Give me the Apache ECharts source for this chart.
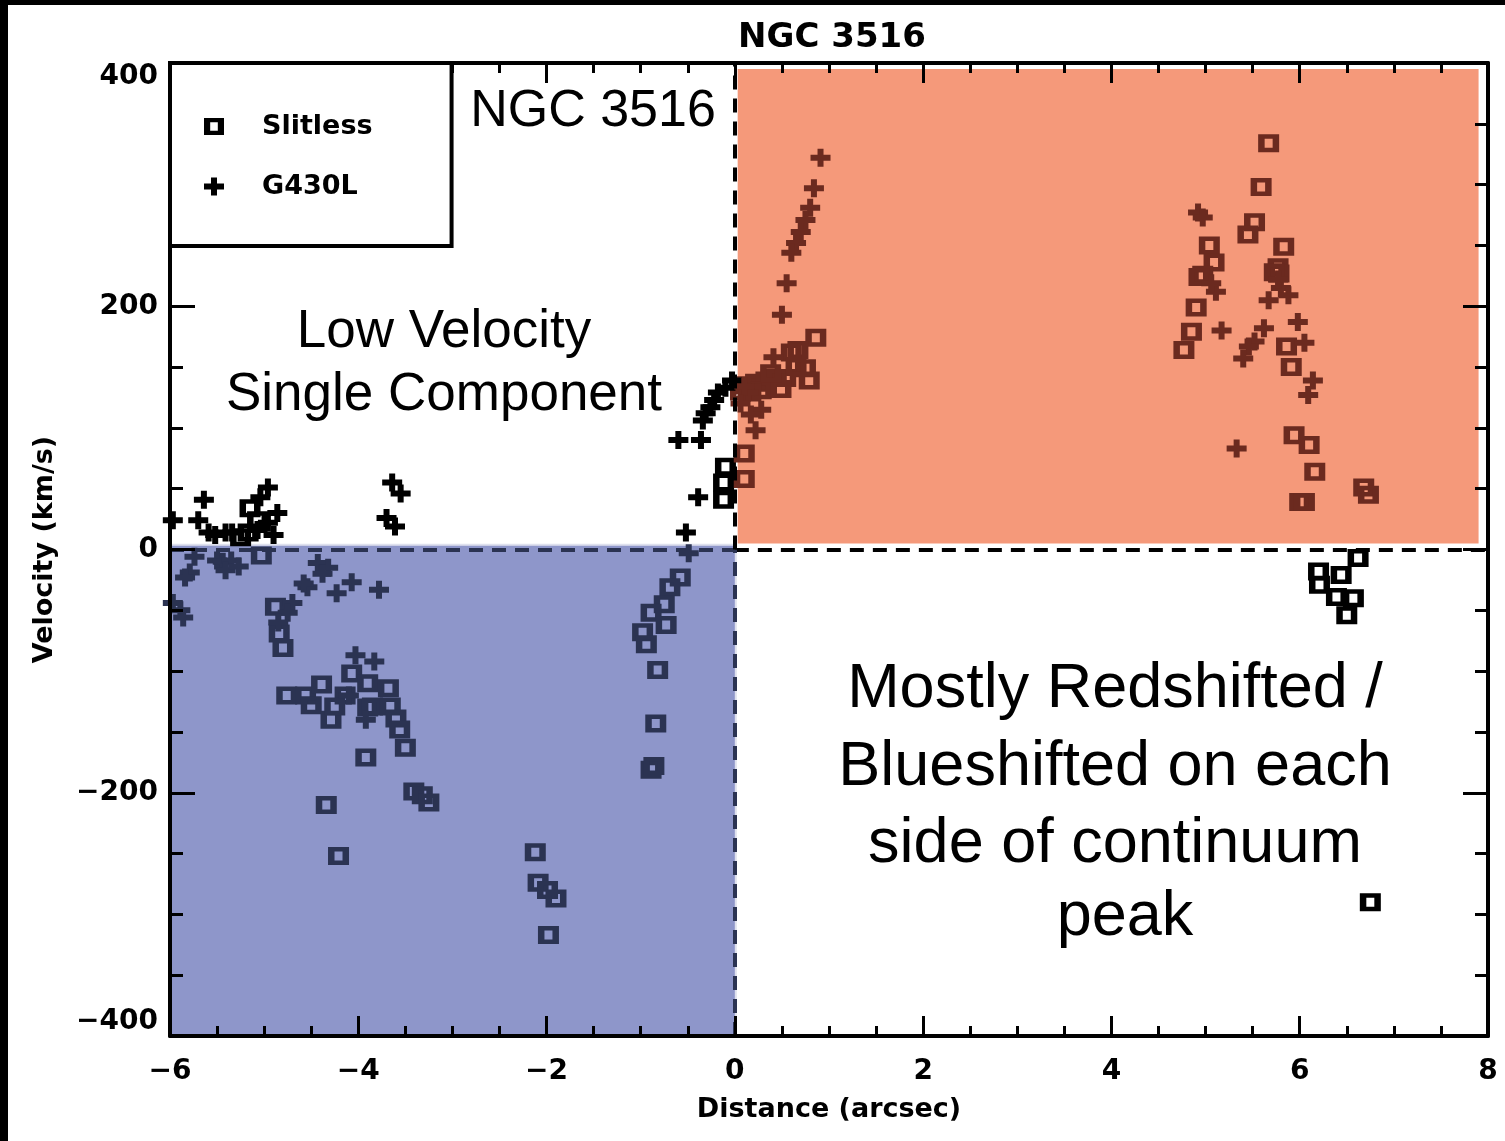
<!DOCTYPE html>
<html>
<head>
<meta charset="utf-8">
<title>NGC 3516</title>
<script src="https://cdn.jsdelivr.net/npm/echarts@6/dist/echarts.min.js"></script>
<style>
  html, body { margin: 0; padding: 0; background: #fff; }
  #wrap { position: relative; width: 1505px; height: 1141px; overflow: hidden; }
  #chart { position: absolute; left: 0; top: 0; width: 1505px; height: 1141px; }
  .edge { position: absolute; background: #000; z-index: 5; }
</style>
</head>
<body>
<div id="wrap">
  <div id="chart"></div>
  <div class="edge" style="left:0;top:0;width:8px;height:1141px;"></div>
  <div class="edge" style="left:0;top:0;width:1505px;height:5px;"></div>
</div>
<script>
// Velocity (km/s) versus distance along the slit (arcsec), two data sets
const slitlessPoints = [
  // x < 0, v > 0
  [-5.15, 34], [-5.07, 24], [-5.17, 14], [-5.25, 10],
  [-0.10, 68], [-0.12, 55], [-0.12, 41],
  // x > 0, v > 0, near the nucleus
  [0.86, 174], [0.67, 164], [0.60, 162], [0.75, 149], [0.79, 139],
  [0.12, 135], [0.22, 137], [0.33, 139], [0.44, 141], [0.54, 141],
  [0.28, 131], [0.49, 132], [0.17, 129], [0.65, 150], [0.06, 130],
  [0.38, 145], [0.10, 79], [0.10, 58],
  // x > 0, v > 0, outer knot
  [5.67, 334], [5.59, 298], [5.52, 269], [5.45, 259], [5.83, 249],
  [5.04, 250], [5.09, 236], [4.97, 226], [4.93, 224], [5.77, 232],
  [5.78, 227], [5.73, 228], [4.90, 199], [4.85, 179], [4.77, 164],
  [5.86, 167], [5.91, 150], [5.94, 94], [6.10, 86], [6.16, 64],
  [6.00, 39], [6.05, 39], [6.68, 51], [6.73, 45],
  // x > 0, v < 0
  [6.62, -7], [6.20, -18], [6.44, -21], [6.21, -29], [6.39, -39],
  [6.57, -40], [6.50, -54], [6.75, -290],
  // x < 0, v < 0
  [-5.03, -5], [-4.88, -47], [-4.84, -69], [-4.80, -81],
  [-4.76, -120], [-4.56, -120], [-4.39, -111], [-4.50, -128], [-4.29, -140],
  [-4.07, -102], [-4.14, -120], [-4.25, -129], [-3.90, -110], [-3.90, -130],
  [-3.85, -129], [-3.68, -114], [-3.66, -129], [-3.60, -139], [-3.56, -148],
  [-3.50, -163], [-3.92, -171], [-4.34, -210], [-4.21, -252],
  [-3.41, -199], [-3.32, -202], [-3.25, -208],
  [-2.12, -249], [-2.09, -274], [-1.99, -280], [-1.90, -287], [-1.98, -317],
  [-0.58, -23], [-0.69, -31], [-0.75, -45], [-0.89, -52], [-0.73, -62],
  [-0.98, -68], [-0.94, -78], [-0.82, -99], [-0.84, -143], [-0.89, -181],
  [-0.86, -178]
];

const g430lPoints = [
  // x < 0, v > 0
  [-5.97, 24], [-5.64, 41], [-5.70, 24], [-5.59, 14], [-5.52, 12],
  [-5.41, 14], [-5.34, 14], [-4.96, 51], [-5.04, 43], [-4.86, 30],
  [-4.96, 22], [-5.07, 16], [-4.90, 12],
  [-3.64, 55], [-3.55, 46], [-3.70, 26], [-3.61, 19],
  [-0.60, 90], [-0.36, 90], [-0.39, 43], [-0.52, 14],
  [-0.03, 139], [-0.10, 133], [-0.18, 129], [-0.22, 123], [-0.26, 117],
  [-0.31, 112], [-0.34, 106],
  // x > 0, v > 0, near the nucleus
  [0.91, 322], [0.84, 297], [0.80, 281], [0.75, 271], [0.70, 261],
  [0.65, 252], [0.60, 244], [0.55, 219], [0.50, 193], [0.41, 158],
  [0.28, 115], [0.17, 111], [0.22, 98], [0.14, 129], [0.10, 134], [0.06, 120],
  // x > 0, v > 0, outer knot
  [4.92, 277], [4.97, 273], [5.11, 212], [5.06, 219], [5.17, 180],
  [5.67, 205], [5.80, 215], [5.88, 209], [5.77, 222], [5.98, 187],
  [5.62, 182], [5.52, 171], [5.46, 167], [5.40, 157], [6.05, 170],
  [6.14, 139], [6.09, 127], [5.33, 83],
  // x < 0, v < 0
  [-5.74, -6], [-5.79, -19], [-5.84, -23], [-5.50, -9], [-5.44, -10],
  [-5.35, -9], [-5.41, -17], [-5.27, -14], [-5.89, -50], [-5.86, -56],
  [-5.97, -44],
  [-4.43, -11], [-4.32, -15], [-4.38, -20], [-4.54, -31], [-4.58, -28],
  [-4.07, -27], [-4.23, -36], [-3.78, -33], [-4.70, -44], [-4.75, -52],
  [-4.85, -60], [-4.03, -87], [-3.83, -92], [-3.92, -140], [-4.10, -120],
  [-0.49, -3]
];

// axis ranges
const xRange = [-6, 8];
const yRange = [-400, 400];

// shaded quadrants
const redQuadrant = [[0.03, 5], [7.9, 395]];
const blueQuadrant = [[-6, -400], [0.01, 4]];

const ORANGE = '#F5997A';
const BLUE = '#8E96CA';
const NAVY = '#2B3352';
const BROWN = '#6B2A1F';

// marker colour follows the shaded quadrant it falls in
function markerColor(p) {
  const x = p.value[0], y = p.value[1];
  if (x < 0 && y < 0) return NAVY;
  if (x > 0 && y > 0) return BROWN;
  return '#000';
}

// hollow square (outer ring with a hole) and a heavy plus sign
const squareSymbol = 'path://M0,0H21V18H0Z M6.5,4.5V13.5H14.5V4.5Z';
const plusSymbol = 'path://M7,0H13V6H20V12H13V18H7V12H0V6H7Z';

const axisFont = { fontFamily: 'DejaVu Sans', fontWeight: 'bold', fontSize: 28, color: '#000' };
const minusFmt = v => String(v).replace('-', '\u2212');

function xAxisDef(pos, showLabel) {
  return {
    type: 'value', position: pos, min: xRange[0], max: xRange[1], interval: 2,
    z: 5,
    name: showLabel ? 'Distance (arcsec)' : '',
    nameLocation: 'middle', nameGap: 60,
    nameTextStyle: { fontFamily: 'DejaVu Sans', fontWeight: 'bold', fontSize: 27, color: '#000' },
    axisLine: { show: true, onZero: false, lineStyle: { color: '#000', width: 4 } },
    axisTick: { show: true, inside: true, length: 20, lineStyle: { color: '#000', width: 3 } },
    minorTick: { show: true, splitNumber: 4, length: 10, lineStyle: { color: '#000', width: 3 } },
    splitLine: { show: false },
    axisLabel: Object.assign({ show: showLabel, margin: 22, formatter: minusFmt }, axisFont)
  };
}
function yAxisDef(pos, showLabel) {
  return {
    type: 'value', position: pos, min: yRange[0], max: yRange[1], interval: 200,
    z: 5,
    name: showLabel ? 'Velocity (km/s)' : '',
    nameLocation: 'middle', nameGap: 112, nameRotate: 90,
    nameTextStyle: { fontFamily: 'DejaVu Sans', fontWeight: 'bold', fontSize: 27, color: '#000' },
    axisLine: { show: true, onZero: false, lineStyle: { color: '#000', width: 4 } },
    axisTick: { show: true, inside: true, length: 25, lineStyle: { color: '#000', width: 3 } },
    minorTick: { show: true, splitNumber: 4, length: 13, lineStyle: { color: '#000', width: 3 } },
    splitLine: { show: false },
    axisLabel: Object.assign({
      show: showLabel, margin: 12, formatter: minusFmt,
      verticalAlignMaxLabel: 'top', verticalAlignMinLabel: 'bottom'
    }, axisFont)
  };
}

const chart = echarts.init(document.getElementById('chart'), null, { renderer: 'canvas' });

const annotationFont = { fontFamily: 'Liberation Sans', fill: '#000', align: 'center', verticalAlign: 'middle' };
function note(text, x, y, size) {
  return { type: 'text', z: 10, style: Object.assign({ text, x, y, fontSize: size }, annotationFont) };
}

chart.setOption({
  animation: false,
  backgroundColor: '#fff',
  title: {
    text: 'NGC 3516', left: 827, top: 16, textAlign: 'center',
    textStyle: { fontFamily: 'DejaVu Sans', fontWeight: 'bold', fontSize: 34, color: '#000' }
  },
  grid: { left: 170, right: 17, top: 63, bottom: 105, containLabel: false },
  xAxis: [xAxisDef('bottom', true), xAxisDef('top', false)],
  yAxis: [yAxisDef('left', true), yAxisDef('right', false)],
  legend: {
    data: ['Slitless', 'G430L'],
    orient: 'vertical', left: 170, top: 63,
    padding: [50, 79, 46, 34],
    itemWidth: 20, itemHeight: 18, itemGap: 33,
    borderColor: '#000', borderWidth: 4,
    backgroundColor: '#fff',
    itemStyle: { color: '#000' },
    textStyle: { fontFamily: 'DejaVu Sans', fontWeight: 'bold', fontSize: 27, color: '#000',
                 lineHeight: 20, padding: [0, 0, 0, 33] },
    selectedMode: false,
    z: 6
  },
  graphic: [
    note('NGC 3516', 593, 112, 52),
    note('Low Velocity', 444, 332, 53),
    note('Single Component', 444, 395, 53),
    note('Mostly Redshifted /', 1115, 690, 63),
    note('Blueshifted on each', 1115, 768, 63),
    note('side of continuum', 1115, 845, 63),
    note('peak', 1125, 918, 63)
  ],
  series: [
    {
      // shaded quadrants
      name: 'quadrants', type: 'scatter', data: [], z: 1, silent: true,
      markArea: {
        silent: true,
        data: [
          [{ coord: redQuadrant[0], itemStyle: { color: ORANGE, opacity: 1 } }, { coord: redQuadrant[1] }],
          [{ coord: blueQuadrant[0], itemStyle: { color: BLUE, opacity: 1, borderColor: '#dfe1ee', borderWidth: 2 } },
           { coord: blueQuadrant[1] }]
        ]
      }
    },
    {
      // zero-velocity and zero-distance reference lines
      name: 'zero lines', type: 'scatter', data: [], z: 2, silent: true,
      markLine: {
        silent: true, symbol: 'none', label: { show: false },
        lineStyle: { type: [14, 9], width: 4 },
        data: [
          [{ coord: [xRange[0], 0], lineStyle: { color: NAVY, type: [14, 9], width: 4 } }, { coord: [0, 0] }],
          [{ coord: [0, 0], lineStyle: { color: '#000', type: [14, 9], width: 4 } }, { coord: [xRange[1], 0] }],
          [{ coord: [0, yRange[0]], lineStyle: { color: NAVY, type: [14, 9], width: 4 } }, { coord: [0, 0] }],
          [{ coord: [0, 0], lineStyle: { color: '#000', type: [14, 9], width: 4 } }, { coord: [0, yRange[1]] }]
        ]
      }
    },
    {
      name: 'Slitless', type: 'scatter', z: 3,
      symbol: squareSymbol, symbolSize: [21, 18], symbolKeepAspect: false,
      itemStyle: { color: markerColor, opacity: 1 },
      data: slitlessPoints
    },
    {
      name: 'G430L', type: 'scatter', z: 3,
      symbol: plusSymbol, symbolSize: [20, 18], symbolKeepAspect: false,
      itemStyle: { color: markerColor, opacity: 1 },
      data: g430lPoints
    }
  ]
});
</script>
</body>
</html>
